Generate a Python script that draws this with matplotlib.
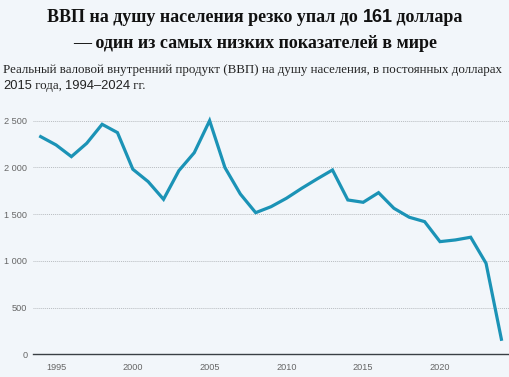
import matplotlib
matplotlib.use("Agg")
import matplotlib.pyplot as plt  # noqa: E402
from matplotlib.ticker import FuncFormatter  # noqa: E402

years = list(range(1994, 2025))
gdp_per_capita = [
    2330, 2241, 2116, 2259, 2462, 2373, 1981, 1848, 1659, 1966, 2158,
    2501, 1998, 1716, 1516, 1580, 1670, 1777, 1877, 1973, 1652, 1627,
    1730, 1563, 1467, 1420, 1206, 1224, 1253, 974, 161,
]
x_ticks = [1995, 2000, 2005, 2010, 2015, 2020]
y_ticks = [0, 500, 1000, 1500, 2000, 2500]

BG = "#f2f6fa"
LINE = "#1b93b6"
SERIF = "Liberation Serif"
SANS = "Liberation Sans"

W, H = 510, 377
fig = plt.figure(figsize=(W / 100, H / 100), dpi=100, facecolor=BG)


def draw_runs(runs, x, y, ha="left", **kw):
    """Draw text pieces with different fonts one after another on a line."""
    renderer = fig.canvas.get_renderer()
    texts = []
    for s, family, weight in runs:
        t = fig.text(0, y, s, family=family, fontweight=weight,
                     va="center", ha="left", **kw)
        texts.append(t)
    widths = [t.get_window_extent(renderer).width for t in texts]
    total = sum(widths)
    start = x * W
    if ha == "center":
        start -= total / 2
    for t, w in zip(texts, widths):
        t.set_x(start / W)
        start += w


title_kw = dict(fontsize=13, color="#111111")
draw_runs([("ВВП на душу населения резко упал до ", SERIF, "bold"),
           ("161", SANS, "bold"),
           (" доллара", SERIF, "bold")],
          0.5, 1 - 18 / H, ha="center", **title_kw)
draw_runs([("— один из самых низких показателей в мире", SERIF, "bold")],
          0.5, 1 - 44 / H, ha="center", **title_kw)

sub_kw = dict(fontsize=9.3, color="#222222")
draw_runs([("Реальный валовой внутренний продукт (ВВП) на душу населения, "
            "в постоянных долларах", SERIF, "normal")],
          3 / W, 1 - 70 / H, **sub_kw)
draw_runs([("2015", SANS, "normal"), (" года, ", SERIF, "normal"),
           ("1994–2024", SANS, "normal"), (" гг.", SERIF, "normal")],
          3 / W, 1 - 86 / H, **sub_kw)

ax_left, ax_right = 33, 510
ax_bottom, ax_top = 354.3, 111.4
ax = fig.add_axes([ax_left / W, 1 - ax_bottom / H,
                   (ax_right - ax_left) / W, (ax_bottom - ax_top) / H])
ax.set_facecolor(BG)

ax.plot(years, gdp_per_capita, color=LINE, lw=2.3, solid_joinstyle="miter",
        zorder=3)

ax.set_xlim(1993.5, 2024.56)
ax.set_ylim(0, 2600)
ax.set_xticks(x_ticks)
ax.set_yticks(y_ticks)
ax.yaxis.set_major_formatter(
    FuncFormatter(lambda v, _: f"{int(v):,}".replace(",", " ")))

ax.grid(axis="y", linestyle=(0, (1, 1)), color="#b8bcc0", lw=0.7)
ax.set_axisbelow(True)
for side in ["top", "right", "left"]:
    ax.spines[side].set_visible(False)
ax.spines["bottom"].set_color("#3a3f44")
ax.spines["bottom"].set_linewidth(1.0)
ax.tick_params(length=0, labelsize=6.6, labelcolor="#666666",
               labelfontfamily=SANS)
ax.tick_params(axis="x", pad=6)
ax.tick_params(axis="y", pad=4)

fig.savefig("out.png", dpi=100, facecolor=BG)
